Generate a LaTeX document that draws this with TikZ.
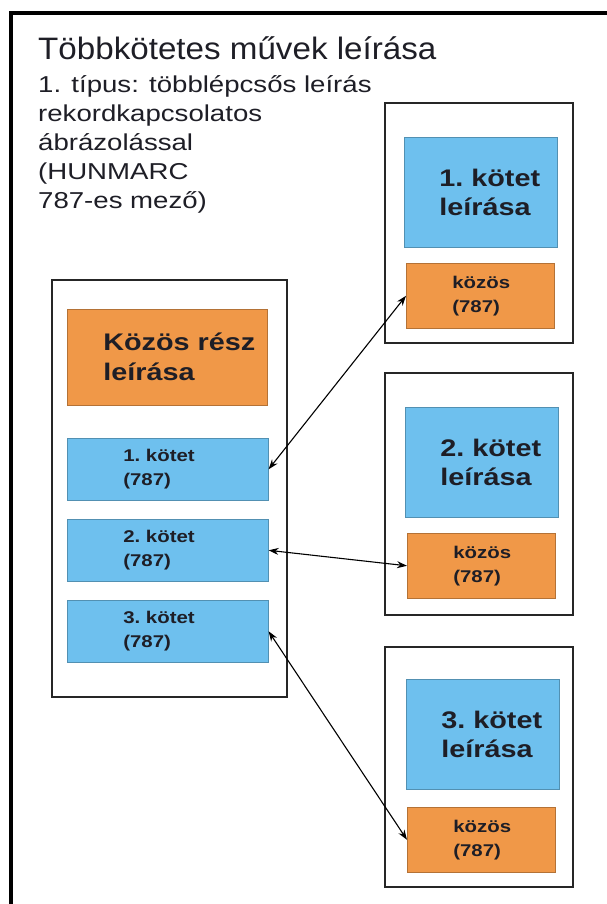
\documentclass[tikz,border=0pt]{standalone}
\usepackage{fontspec}
\setmainfont{Liberation Sans}[FakeStretch=1.2]
\newfontfamily\titlefont{Liberation Sans}[FakeStretch=1.07]
\usetikzlibrary{arrows.meta}
\definecolor{kek}{RGB}{110,192,238}
\definecolor{narancs}{RGB}{240,152,72}
\definecolor{szoveg}{RGB}{30,30,38}
\hfuzz=100pt

\begin{document}
\begin{tikzpicture}[x=1pt,y=-1pt,
  keret/.style={draw=black!85, line width=2.4pt},
  doboz/.style={draw=#1!75!black, line width=0.6pt, fill=#1, inner sep=0pt,
    anchor=north west, align=left, text=szoveg},
  nagykek/.style={doboz=kek, minimum width=153pt, minimum height=110pt,
    text width=83pt, font=\bfseries\fontsize{24}{29}\selectfont},
  kisnarancs/.style={doboz=narancs, minimum width=148pt, minimum height=65pt,
    text width=56pt, font=\bfseries\fontsize{17}{24}\selectfont},
  kiskek/.style={doboz=kek, minimum width=201pt, minimum height=62pt,
    text width=89pt, font=\bfseries\fontsize{17}{24}\selectfont},
  nyil/.style={{Stealth[length=10pt,width=7pt]}-{Stealth[length=10pt,width=7pt]},
    line width=1.1pt}]
\def\lap{(0,0) rectangle (607,904)}
\useasboundingbox \lap;
\clip \lap;

% outer frame, cut by the page edge
\draw[line width=3.5pt] (11,920) -- (11,13) -- (620,13);

\node[anchor=base west, inner sep=0pt, text=szoveg,
  font=\titlefont\fontsize{31}{36}\selectfont] (cim) at (38,60)
  {Többkötetes művek leírása};
\node[anchor=north west, inner sep=0pt, align=left, text=szoveg,
  font=\fontsize{23}{29}\selectfont] (alcim) at (38,75)
  {1. típus: többlépcsős leírás\\rekordkapcsolatos\\ábrázolással\\(HUNMARC\\787-es mező)};

% volume records on the right
\draw[keret] (385,103) rectangle (573,343);
\draw[keret] (385,373) rectangle (573,615);
\draw[keret] (385,647) rectangle (573,887);

\node[nagykek] (kotet1) at (404,137) {1.~kötet\\leírása};
\node[kisnarancs] (kozos1) at (406,263) {közös\\(787)};
\node[nagykek] (kotet2) at (405,407) {2.~kötet\\leírása};
\node[kisnarancs] (kozos2) at (407,533) {közös\\(787)};
\node[nagykek] (kotet3) at (406,679) {3.~kötet\\leírása};
\node[kisnarancs] (kozos3) at (407,807) {közös\\(787)};

% common record on the left
\draw[keret] (52,280) rectangle (287,697);
\node[doboz=narancs, minimum width=200pt, minimum height=96pt, text width=128pt,
  font=\bfseries\fontsize{24}{30}\selectfont] (kozos) at (67,309) {Közös~rész\\leírása};
\node[kiskek] (hiv1) at (67,438) {1.~kötet\\(787)};
\node[kiskek] (hiv2) at (67,519) {2.~kötet\\(787)};
\node[kiskek] (hiv3) at (67,600) {3.~kötet\\(787)};

\draw[nyil] (hiv1.east) -- (kozos1.west);
\draw[nyil] (hiv2.east) -- (kozos2.west);
\draw[nyil] (hiv3.east) -- (kozos3.west);
\end{tikzpicture}
\end{document}
